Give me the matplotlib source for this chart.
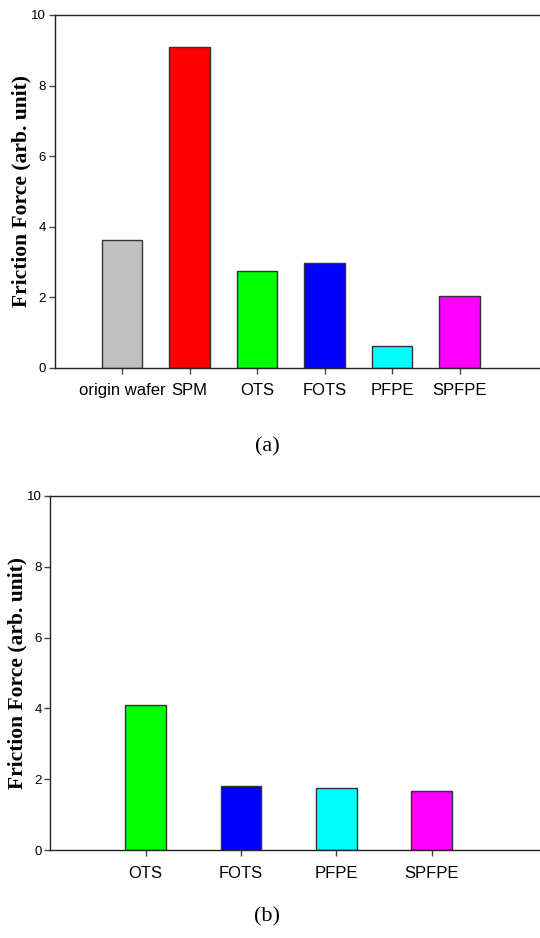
import matplotlib
matplotlib.use('Agg')
import matplotlib.pyplot as plt

# panel (a)
labels_a = ['origin wafer', 'SPM', 'OTS', 'FOTS', 'PFPE', 'SPFPE']
force_a = [3.61, 9.09, 2.75, 2.98, 0.61, 2.02]
colors_a = ['#C0C0C0', '#FF0000', '#00FF00', '#0000FF', '#00FFFF', '#FF00FF']

# panel (b)
labels_b = ['OTS', 'FOTS', 'PFPE', 'SPFPE']
force_b = [4.11, 1.81, 1.75, 1.68]
colors_b = ['#00FF00', '#0000FF', '#00FFFF', '#FF00FF']

W, H = 540, 938
fig = plt.figure(figsize=(W / 100, H / 100), dpi=100)

sans = 'Liberation Sans'
serif = 'Liberation Serif'


def panel(rect, labels, vals, colors, width, xmax, tag, tag_y):
    ax = fig.add_axes(rect)
    x = list(range(1, len(labels) + 1))
    ax.bar(x, vals, width=width, color=colors, edgecolor='#333333', linewidth=1.0)
    ax.set_xlim(0, xmax)
    ax.set_ylim(0, 10)
    ax.set_yticks([0, 2, 4, 6, 8, 10])
    ax.set_xticks(x)
    ax.set_xticklabels(labels, fontsize=12, family=sans)
    for t in ax.get_yticklabels():
        t.set_fontsize(9.5)
        t.set_family(sans)
    ax.tick_params(axis='x', direction='out', length=4, width=1, pad=7, color='#444444')
    ax.tick_params(axis='y', direction='out', length=4, width=1, pad=2, color='#444444')
    ax.spines['right'].set_visible(False)
    for s in ['left', 'bottom', 'top']:
        ax.spines[s].set_color('#222222')
        ax.spines[s].set_linewidth(1.0)
    ax.set_ylabel('Friction Force (arb. unit)', fontsize=15.5, family=serif,
                  fontweight='bold', labelpad=0)
    fig.text(267 / W, 1 - tag_y / H, tag, fontsize=16, family=serif,
             ha='center', va='center')
    return ax


# axes go past the right edge, the reference is cut there
panel([54.5 / W, 1 - 367.7 / H, 7.5 * 67.5 / W, (367.7 - 15) / H],
      labels_a, force_a, colors_a, 0.6, 7.5, '(a)', 447)
panel([50.4 / W, 1 - 850.3 / H, 5.5 * 95.3 / W, (850.3 - 495.7) / H],
      labels_b, force_b, colors_b, 0.43, 5.5, '(b)', 917)

fig.savefig('out.png', dpi=100)
